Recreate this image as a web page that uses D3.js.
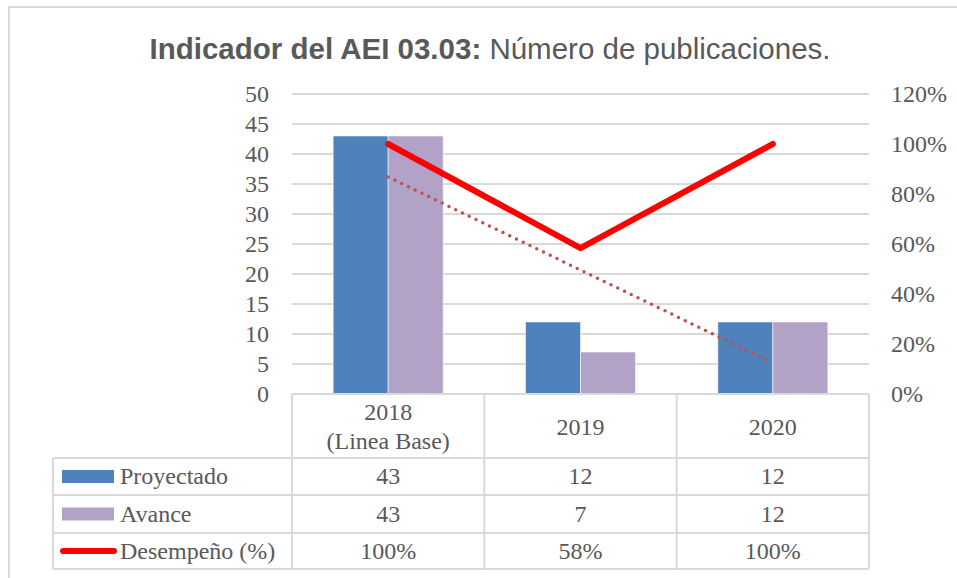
<!DOCTYPE html>
<html lang="es">
<head>
    <meta charset="UTF-8">
    <title>Indicador del AEI 03.03</title>
    <script src="https://d3js.org/d3.v7.min.js"></script>
    <style>
        body { margin: 0; background: #fff; }
        text { fill: #595959; }
    </style>
</head>
<body>
<svg id="main" width="957" height="578"></svg>
<script>
    // datos
    let categories = ['2018', '2019', '2020'];
    let categoryLabels = [['2018', '(Linea Base)'], ['2019'], ['2020']];
    let proyectado = [43, 12, 12];
    let avance = [43, 7, 12];
    let desempeno = [1.00, 0.5833, 1.00];
    let desempenoLabels = ['100%', '58%', '100%'];
    let leftTicks = [0, 5, 10, 15, 20, 25, 30, 35, 40, 45, 50];
    let rightTicks = [0, 0.2, 0.4, 0.6, 0.8, 1.0, 1.2];
    let seriesNames = ['Proyectado', 'Avance'];

    let svg = d3.select('svg');
    let serifFont = '"Liberation Serif", "Times New Roman", serif';
    let gridColor = '#d9d9d9';
    let barColors = ['#4f81bd', '#b2a2c7'];

    let plot = {left: 292, right: 869, top: 94, bottom: 394};
    let rows = [394, 458, 495, 533, 569];
    let tableLeft = 53;

    // borde exterior
    svg.append('path')
        .attr('d', 'M9,600 L9,7 L970,7')
        .attr('fill', 'none')
        .attr('stroke', gridColor)
        .attr('stroke-width', 2);

    // titulo
    let title = svg.append('text')
        .attr('x', 490)
        .attr('y', 59)
        .attr('text-anchor', 'middle')
        .style('font-family', '"Liberation Sans", Arial, sans-serif')
        .style('font-size', '29.5px');
    title.append('tspan').style('font-weight', 'bold').text('Indicador del AEI 03.03:');
    title.append('tspan').text(' Número de publicaciones.');

    let xScale = d3.scaleBand().domain(categories).range([plot.left, plot.right]).padding(0);
    let barWidth = 55;
    let xInner = d3.scaleBand().domain(seriesNames).range([-barWidth, barWidth]);
    let yLeft = d3.scaleLinear().domain([0, 50]).range([plot.bottom, plot.top]);
    let yRight = d3.scaleLinear().domain([0, 1.2]).range([plot.bottom, plot.top]);
    let center = function(c){ return xScale(c) + xScale.bandwidth() / 2; };

    // lineas de cuadricula
    svg.append('g').selectAll('line')
        .data(leftTicks.filter(function(d){ return d > 0; }))
        .enter()
        .append('line')
        .attr('x1', plot.left)
        .attr('x2', plot.right)
        .attr('y1', function(d){ return yLeft(d); })
        .attr('y2', function(d){ return yLeft(d); })
        .attr('stroke', gridColor)
        .attr('stroke-width', 2);

    // eje izquierdo
    svg.append('g').selectAll('text')
        .data(leftTicks)
        .enter()
        .append('text')
        .attr('x', 269)
        .attr('y', function(d){ return yLeft(d); })
        .attr('dy', '0.33em')
        .attr('text-anchor', 'end')
        .style('font-family', serifFont)
        .style('font-size', '24px')
        .text(function(d){ return d; });

    // eje derecho
    svg.append('g').selectAll('text')
        .data(rightTicks)
        .enter()
        .append('text')
        .attr('x', 891)
        .attr('y', function(d){ return yRight(d); })
        .attr('dy', '0.33em')
        .style('font-family', serifFont)
        .style('font-size', '24px')
        .text(d3.format('.0%'));

    // barras
    let barData = [proyectado, avance];
    let groups = svg.append('g').selectAll('g')
        .data(barData)
        .enter()
        .append('g')
        .style('fill', function(d, i){ return barColors[i]; });
    groups.each(function(values, s){
        d3.select(this).selectAll('rect')
            .data(values)
            .enter()
            .append('rect')
            .attr('x', function(d, i){ return center(categories[i]) + xInner(seriesNames[s]); })
            .attr('width', xInner.bandwidth())
            .attr('y', function(d){ return yLeft(d); })
            .attr('height', function(d){ return yLeft(0) - yLeft(d); })
            .attr('stroke', 'rgba(255,255,255,0.55)')
            .attr('stroke-width', 1);
    });

    // linea de tendencia lineal de Avance (punteada)
    let n = avance.length;
    let xs = d3.range(n);
    let mx = d3.mean(xs), my = d3.mean(avance);
    let slope = d3.sum(xs, function(x, i){ return (x - mx) * (avance[i] - my); }) /
        d3.sum(xs, function(x){ return (x - mx) * (x - mx); });
    let intercept = my - slope * mx;
    let trend = [0, n - 1].map(function(i){ return [center(categories[i]), yLeft(intercept + slope * i)]; });
    svg.append('path')
        .attr('d', d3.line()(trend))
        .attr('fill', 'none')
        .attr('stroke', '#c0504d')
        .attr('stroke-width', 3.5)
        .attr('stroke-linecap', 'round')
        .attr('stroke-dasharray', '0,7.5');

    // linea de desempeño
    svg.append('path')
        .datum(desempeno)
        .attr('d', d3.line()
            .x(function(d, i){ return center(categories[i]); })
            .y(function(d){ return yRight(d); }))
        .attr('fill', 'none')
        .attr('stroke', '#ff0000')
        .attr('stroke-width', 6)
        .attr('stroke-linecap', 'round')
        .attr('stroke-linejoin', 'round');

    // tabla de datos
    let table = svg.append('g')
        .attr('stroke', gridColor)
        .attr('stroke-width', 2);
    table.append('line').attr('x1', plot.left).attr('x2', plot.right).attr('y1', rows[0]).attr('y2', rows[0]);
    table.selectAll('.hrow')
        .data(rows.slice(1))
        .enter()
        .append('line')
        .attr('x1', tableLeft).attr('x2', plot.right)
        .attr('y1', function(d){ return d; }).attr('y2', function(d){ return d; });
    let colEdges = categories.map(function(c){ return xScale(c); }).concat([plot.right]);
    table.selectAll('.vcol')
        .data(colEdges)
        .enter()
        .append('line')
        .attr('x1', function(d){ return d; }).attr('x2', function(d){ return d; })
        .attr('y1', rows[0]).attr('y2', rows[4]);
    table.append('line').attr('x1', tableLeft).attr('x2', tableLeft).attr('y1', rows[1]).attr('y2', rows[4]);

    let cellText = function(x, y, str){
        return svg.append('text')
            .attr('x', x)
            .attr('y', y)
            .attr('dy', '0.33em')
            .attr('text-anchor', 'middle')
            .style('font-family', serifFont)
            .style('font-size', '24px')
            .text(str);
    };

    // encabezados
    categoryLabels.forEach(function(lines, i){
        let mid = (rows[0] + rows[1]) / 2;
        let start = mid - (lines.length - 1) * 14.5;
        lines.forEach(function(l, j){
            cellText(center(categories[i]), start + j * 29 + 1, l);
        });
    });

    // filas
    let tableRows = [
        proyectado.map(String),
        avance.map(String),
        desempenoLabels
    ];
    tableRows.forEach(function(vals, r){
        let mid = (rows[r + 1] + rows[r + 2]) / 2;
        vals.forEach(function(v, i){
            cellText(center(categories[i]), mid, v);
        });
    });

    // claves de leyenda
    let legendNames = ['Proyectado', 'Avance', 'Desempeño (%)'];
    legendNames.forEach(function(name, r){
        let mid = (rows[r + 1] + rows[r + 2]) / 2;
        if (r < 2) {
            svg.append('rect')
                .attr('x', 62).attr('y', mid - 6.5)
                .attr('width', 52).attr('height', 13)
                .attr('fill', barColors[r]);
        } else {
            svg.append('line')
                .attr('x1', 63).attr('x2', 114)
                .attr('y1', mid).attr('y2', mid)
                .attr('stroke', '#ff0000')
                .attr('stroke-width', 6)
                .attr('stroke-linecap', 'round');
        }
        svg.append('text')
            .attr('x', 120)
            .attr('y', mid)
            .attr('dy', '0.33em')
            .style('font-family', serifFont)
            .style('font-size', '24px')
            .text(name);
    });
</script>
</body>
</html>
